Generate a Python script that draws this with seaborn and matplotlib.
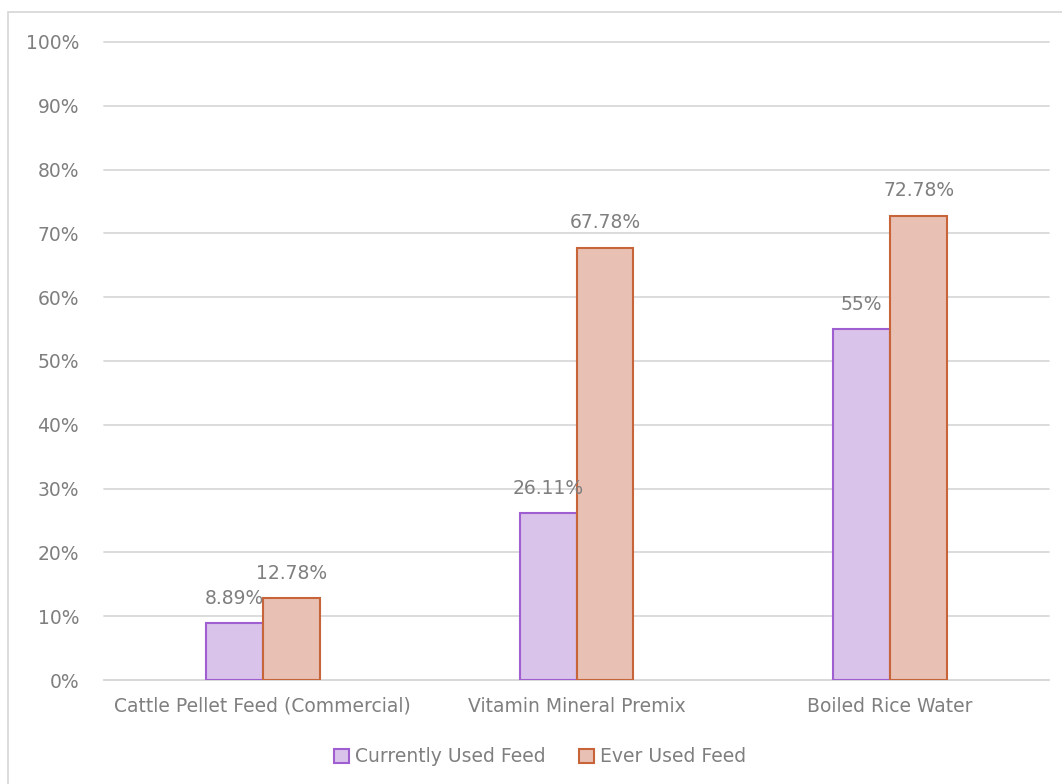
import matplotlib
matplotlib.use("Agg")
import matplotlib.pyplot as plt
from matplotlib.patches import Rectangle, Patch
import seaborn as sns
import pandas as pd

categories = ["Cattle Pellet Feed (Commercial)", "Vitamin Mineral Premix", "Boiled Rice Water"]
series_names = ["Currently Used Feed", "Ever Used Feed"]
currently_used = [8.89, 26.11, 55.0]
ever_used = [12.78, 67.78, 72.78]
value_labels_current = ["8.89%", "26.11%", "55%"]
value_labels_ever = ["12.78%", "67.78%", "72.78%"]
y_ticks = [0, 10, 20, 30, 40, 50, 60, 70, 80, 90, 100]

face_colors = ["#D9C3EA", "#E8C1B4"]
edge_colors = ["#A05FD0", "#C8643A"]
text_gray = "#7F7F7F"
grid_gray = "#D9D9D9"

sns.set_theme(style="white")
plt.rcParams["font.family"] = ["DejaVu Sans"]

df = pd.DataFrame({
    "Category": categories * 2,
    "Series": [series_names[0]] * 3 + [series_names[1]] * 3,
    "Value": currently_used + ever_used,
})

fig = plt.figure(figsize=(10.62, 7.84), dpi=100)
ax = fig.add_axes([104 / 1062, 1 - 680 / 784, (1049 - 104) / 1062, (680 - 42) / 784])

sns.barplot(data=df, x="Category", y="Value", hue="Series", order=categories,
            hue_order=series_names, palette=face_colors, saturation=1, width=0.363, gap=0,
            errorbar=None, legend=False, ax=ax, zorder=3)

# outline colours per series
labels_all = [value_labels_current, value_labels_ever]
for i, container in enumerate(ax.containers):
    for bar in container:
        bar.set_edgecolor(edge_colors[i])
        bar.set_linewidth(1.5)
    ax.bar_label(container, labels=labels_all[i], padding=11, color=text_gray, fontsize=13.5)

ax.set_ylim(0, 100)
ax.set_xlim(-0.506, 2.506)
ax.set_yticks(y_ticks)
ax.set_yticklabels([f"{t}%" for t in y_ticks])
ax.yaxis.grid(True, color=grid_gray, linewidth=1.3, zorder=0)
for gl in ax.get_ygridlines():
    gl.set_clip_on(False)
ax.set_axisbelow(True)
for side in ["top", "right", "left"]:
    ax.spines[side].set_visible(False)
ax.spines["bottom"].set_color(grid_gray)
ax.spines["bottom"].set_linewidth(1.3)
ax.tick_params(axis="both", length=0, colors=text_gray, labelsize=13.5)
ax.tick_params(axis="y", pad=18)
ax.tick_params(axis="x", pad=12)
ax.set_xlabel("")
ax.set_ylabel("")

handles = [Patch(facecolor=face_colors[i], edgecolor=edge_colors[i], linewidth=1.5, label=series_names[i])
           for i in range(2)]
fig.legend(handles=handles, loc="center", bbox_to_anchor=(540 / 1062, 1 - 757 / 784), ncol=2,
           frameon=False, fontsize=13.5, labelcolor=text_gray, handlelength=0.8, handleheight=0.8,
           handletextpad=0.3, columnspacing=1.8)

fig.patches.append(Rectangle((8 / 1062, -0.1), 1.2, (784 - 12) / 784 + 0.1, transform=fig.transFigure,
                             fill=False, edgecolor=grid_gray, linewidth=1.3))

fig.savefig("out.png", dpi=100)
